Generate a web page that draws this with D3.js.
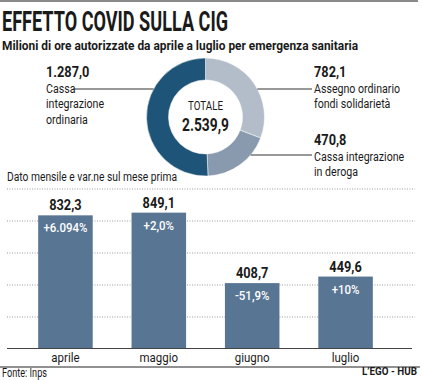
<!DOCTYPE html>
<html><head><meta charset="utf-8">
<script src="https://cdn.jsdelivr.net/npm/d3@7"></script>
<style>html,body{margin:0;padding:0;background:#fff}svg{display:block}text{font-family:Roboto,"Noto Sans",sans-serif}</style>
</head><body>
<svg id="c" width="422" height="380"></svg>
<script>
// ---- data ----
const title = "EFFETTO COVID SULLA CIG";
const subtitle = "Milioni di ore autorizzate da aprile a luglio per emergenza sanitaria";
const donutLabels = ["Assegno ordinario fondi solidarietà", "Cassa integrazione in deroga", "Cassa integrazione ordinaria"];
const donutValues = [782.1, 470.8, 1287.0];
const donutValueText = ["782,1", "470,8", "1.287,0"];
const totalText = "2.539,9";
const barNote = "Dato mensile e var.ne sul mese prima";
const months = ["aprile", "maggio", "giugno", "luglio"];
const monthValues = [832.3, 849.1, 408.7, 449.6];
const monthValueText = ["832,3", "849,1", "408,7", "449,6"];
const monthChange = ["+6.094%", "+2,0%", "-51,9%", "+10%"];
const gridTicks = [200, 400, 600, 800, 1000];
const source = "Fonte: Inps";
const credit = "L\u2019EGO - HUB";

// ---- helpers ----
const svg = d3.select("#c");
const cond = (sel, f) => sel.each(function(){ const w = this.getComputedTextLength(); this.setAttribute("textLength", w*f); this.setAttribute("lengthAdjust","spacingAndGlyphs"); });
const fit = (sel, w) => sel.attr("textLength", w).attr("lengthAdjust","spacingAndGlyphs");

// top rule
svg.append("line").attr("x1",0).attr("x2",418).attr("y1",1).attr("y2",1).attr("stroke","#8a8a8a").attr("stroke-width",2);

// title & subtitle
fit(svg.append("text").attr("x",2).attr("y",31).attr("font-size",28).attr("font-weight",700).attr("fill","#1a1a1a").text(title), 226);
fit(svg.append("text").attr("x",2).attr("y",50).attr("font-size",13).attr("font-weight",700).attr("fill","#1a1a1a").text(subtitle), 356);

// ---- donut ----
const cx = 205.5, cy = 117, R = 59, r = 37;
const colors = ["#b3bdc9", "#8a9aae", "#1e5478"];
const pie = d3.pie().sort(null).value(d => d)(donutValues);
const arc = d3.arc().innerRadius(r).outerRadius(R);
const g = svg.append("g").attr("transform", `translate(${cx},${cy})`);
g.selectAll("path").data(pie).join("path").attr("d", arc).attr("fill", (d,i) => colors[i]).attr("stroke","#fff").attr("stroke-width",0.5);
cond(g.append("text").attr("x",0).attr("y",-7).attr("text-anchor","middle").attr("font-size",12.5).attr("fill","#1a1a1a").text("TOTALE"), 0.78);
fit(g.append("text").attr("x",0).attr("y",13.5).attr("text-anchor","middle").attr("font-size",18.5).attr("font-weight",700).attr("fill","#1a1a1a").text(totalText), 47);

// donut labels
const edgeX = (y, side) => cx + side*Math.sqrt(R*R - (y-cy)*(y-cy));
const lab = [
  {x:314, y:77, lines:["Assegno ordinario","fondi solidarietà"], lineY:89, side:1},
  {x:314, y:145, lines:["Cassa integrazione","in deroga"], lineY:155, side:1},
  {x:46, y:77, lines:["Cassa","integrazione","ordinaria"], lineY:89, side:-1}
];
lab.forEach((L,i) => {
  cond(svg.append("text").attr("x",L.x).attr("y",L.y).attr("font-size",14.5).attr("font-weight",700).attr("fill","#1a1a1a").text(donutValueText[i]), 0.88);
  L.lines.forEach((t,j) => {
    cond(svg.append("text").attr("x",L.x).attr("y",L.y+15.5*(j+1)).attr("font-size",12.5).attr("fill","#1a1a1a").text(t), 0.85);
  });
  if (L.side === 1) {
    svg.append("line").attr("x1",edgeX(L.lineY,1)).attr("x2",L.x-2).attr("y1",L.lineY).attr("y2",L.lineY).attr("stroke","#333").attr("stroke-width",1);
  } else {
    svg.append("line").attr("x1",73).attr("x2",edgeX(L.lineY,-1)).attr("y1",L.lineY).attr("y2",L.lineY).attr("stroke","#333").attr("stroke-width",1);
  }
});

// ---- bars ----
fit(svg.append("text").attr("x",7).attr("y",181).attr("font-size",12.5).attr("fill","#1a1a1a").text(barNote), 170);

const x = d3.scaleBand().domain(months).range([19.5, 391.5]).paddingInner(0.416).paddingOuter(0.2);
const y = d3.scaleLinear().domain([0, 1000]).range([348.5, 188.5]);

const grid = svg.append("g").attr("transform","translate(7,0)")
  .call(d3.axisRight(y).tickValues(gridTicks).tickSize(408).tickFormat(""));
grid.select(".domain").remove();
grid.selectAll(".tick line").attr("stroke","#9a9a9a").attr("stroke-dasharray","1,1.5").attr("stroke-width",1);

const data = months.map((m,i) => ({m, v:monthValues[i], t:monthValueText[i], c:monthChange[i]}));
svg.selectAll("rect.bar").data(data).join("rect").attr("class","bar")
  .attr("x", d => x(d.m)).attr("width", x.bandwidth())
  .attr("y", d => y(d.v)).attr("height", d => y(0) - y(d.v)).attr("fill","#587593");

cond(svg.selectAll("text.val").data(data).join("text").attr("class","val")
  .attr("x", d => x(d.m) + x.bandwidth()/2).attr("y", d => y(d.v) - 5)
  .attr("text-anchor","middle").attr("font-size",14.5).attr("font-weight",700).attr("fill","#1a1a1a").text(d => d.t), 0.88);

cond(svg.selectAll("text.chg").data(data).join("text").attr("class","chg")
  .attr("x", d => x(d.m) + x.bandwidth()/2).attr("y", d => y(d.v) + 17)
  .attr("text-anchor","middle").attr("font-size",13.5).attr("font-weight",500).attr("fill","#fff").text(d => d.c), 0.85);

// x axis
const xa = svg.append("g").attr("transform",`translate(0,${y(0)})`).call(d3.axisBottom(x).tickSize(0).tickPadding(3.5));
xa.select(".domain").remove();
xa.selectAll("text").attr("font-size",13.5).attr("fill","#1a1a1a").attr("font-family","Roboto");
cond(xa.selectAll("text"), 0.85);
svg.append("line").attr("x1",7).attr("x2",412).attr("y1",y(0)).attr("y2",y(0)).attr("stroke","#444").attr("stroke-width",1);

// footer
svg.append("line").attr("x1",0).attr("x2",420).attr("y1",367).attr("y2",367).attr("stroke","#222").attr("stroke-width",1);
fit(svg.append("text").attr("x",2).attr("y",377).attr("font-size",12).attr("fill","#1a1a1a").text(source), 45);
fit(svg.append("text").attr("x",362).attr("y",375).attr("font-size",10.5).attr("font-weight",700)
  .attr("font-family","Roboto,sans-serif").attr("fill","#1a1a1a").text(credit), 55);
</script>
</body></html>
